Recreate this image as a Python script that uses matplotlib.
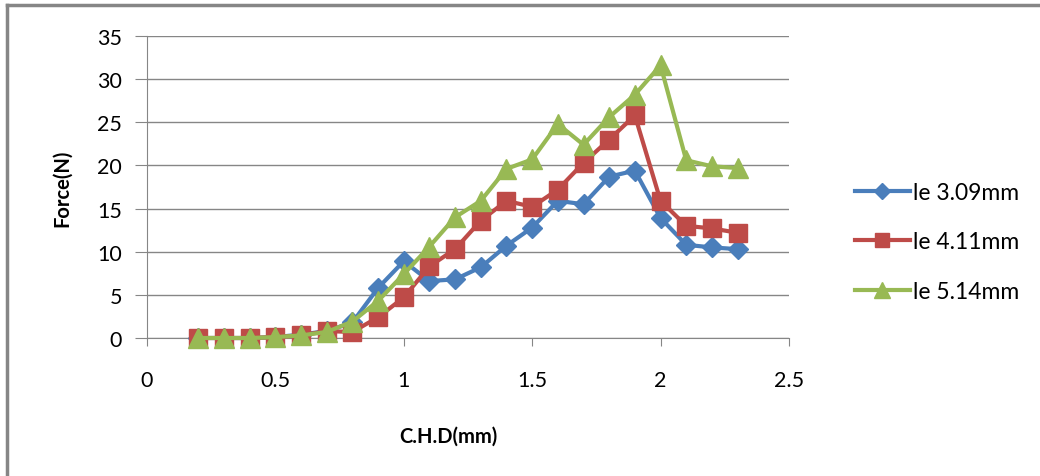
import matplotlib.pyplot as plt
from matplotlib.lines import Line2D

plt.rcParams['font.family'] = ['Lato', 'DejaVu Sans']

# data
chd = [0.2, 0.3, 0.4, 0.5, 0.6, 0.7, 0.8, 0.9, 1.0, 1.1, 1.2,
       1.3, 1.4, 1.5, 1.6, 1.7, 1.8, 1.9, 2.0, 2.1, 2.2, 2.3]
le_309 = [0, 0, 0, 0.1, 0.4, 0.8, 1.8, 5.8, 8.9, 6.6, 6.8,
          8.2, 10.7, 12.8, 15.9, 15.5, 18.7, 19.4, 13.9, 10.8, 10.5, 10.3]
le_411 = [0, 0, 0, 0.1, 0.3, 0.8, 0.7, 2.4, 4.7, 8.3, 10.3,
          13.6, 15.9, 15.2, 17.2, 20.3, 23.0, 25.8, 15.9, 13.0, 12.7, 12.2]
le_514 = [0, 0, 0, 0.1, 0.3, 0.7, 1.9, 4.3, 7.4, 10.6, 14.0,
          15.9, 19.6, 20.7, 24.8, 22.4, 25.6, 28.2, 31.6, 20.6, 19.9, 19.7]
labels = ['le 3.09mm', 'le 4.11mm', 'le 5.14mm']

blue = '#4A7EBB'
red = '#BE4B48'
green = '#98B954'
gray = '#868686'

fig = plt.figure(figsize=(10.4, 4.77), dpi=100)
ax = fig.add_axes([0.1413, 0.2893, 0.6173, 0.6331])

ax.plot(chd, le_309, color=blue, lw=3, marker='D', ms=10, label=labels[0], zorder=3)
ax.plot(chd, le_411, color=red, lw=3, marker='s', ms=13, label=labels[1], zorder=3)
ax.plot(chd, le_514, color=green, lw=3, marker='^', ms=14, label=labels[2], zorder=4)

ax.set_xlim(0, 2.5)
ax.set_ylim(0, 35)
ax.set_xticks([0, 0.5, 1, 1.5, 2, 2.5])
ax.set_xticklabels(['0', '0.5', '1', '1.5', '2', '2.5'])
ax.set_yticks(range(0, 36, 5))
ax.yaxis.grid(True, color=gray, lw=1)
ax.set_axisbelow(True)
for s in ['top', 'right']:
    ax.spines[s].set_visible(False)
for s in ['left', 'bottom']:
    ax.spines[s].set_color(gray)
ax.tick_params(axis='y', length=9, color=gray, labelsize=15.5, pad=9)
ax.tick_params(axis='x', length=6, color=gray, labelsize=15.5, pad=17)
for ln in ax.lines:
    ln.set_clip_on(False)

ax.set_ylabel('Force(N)', fontsize=14.5, fontweight='bold')
ax.yaxis.set_label_coords(-0.117, 0.5)
ax.set_xlabel('C.H.D(mm)', fontsize=14.5, fontweight='bold')
ax.xaxis.set_label_coords(0.47, -0.29)

ax.legend(loc='center left', bbox_to_anchor=(1.07, 0.318), frameon=False,
          fontsize=16.5, handlelength=2.4, handletextpad=0.15, labelspacing=1.25,
          markerscale=0.8)

# outer chart border
fig.add_artist(Line2D([0.0067, 1.0], [0.9874, 0.9874], color=gray, lw=2.5))
fig.add_artist(Line2D([0.0067, 0.0067], [0.0, 0.9874], color=gray, lw=2.5))

fig.savefig('out.png', dpi=100)
